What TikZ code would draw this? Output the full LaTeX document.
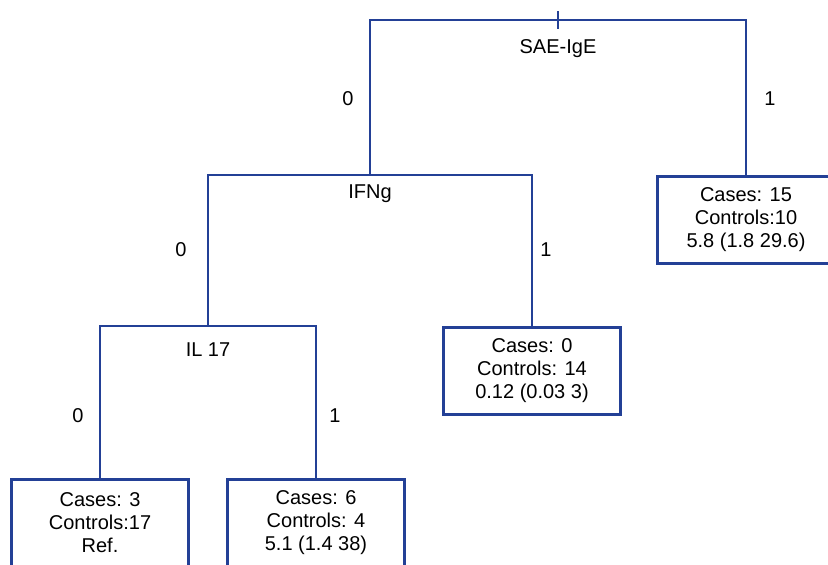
\documentclass[tikz,border=0pt]{standalone}
\usepackage{fontspec}
\setmainfont{Liberation Sans}
\usetikzlibrary{positioning}
\definecolor{treeblue}{RGB}{35,64,150}

\begin{document}
\begin{tikzpicture}[x=0.75pt, y=-0.75pt,
  branch/.style={treeblue, line width=2.1pt},
  leaf/.style={draw=treeblue, line width=2.1pt, minimum width=133pt,
    minimum height=65pt, align=center, inner sep=0pt,
    font=\fontsize{15}{17.25}\selectfont},
  split/.style={font=\fontsize{15}{17.25}\selectfont},
  side/.style={font=\fontsize{15}{17.25}\selectfont}]
  \clip (0,0) rectangle (828,564);
  % leaves
  \node[leaf] (box15) at (746,220) {Cases: 15\\Controls:10\\5.8 (1.8 29.6)};
  \node[leaf] (box0) at (532,371) {Cases: 0\\Controls: 14\\0.12 (0.03 3)};
  \node[leaf] (box3) at (100,523) {Cases: 3\\Controls:17\\Ref.};
  \node[leaf] (box6) at (316,523) {Cases: 6\\Controls: 4\\5.1 (1.4 38)};
  % split points
  \coordinate (top) at (558,20);
  \coordinate (ifng) at (370,175);
  \coordinate (il) at (208,326);
  \draw[branch] (ifng) |- (top) -| (box15.north);
  \draw[branch] (il) |- (ifng) -| (box0.north);
  \draw[branch] (box3.north) |- (il) -| (box6.north);
  \draw[branch] (top) ++(0,-9) -- ++(0,18);
  % split labels
  \node[split] (saeige) at (558,49) {SAE-IgE};
  \node[split] (ifnglab) at (370,194) {IFNg};
  \node[split] (il17) at (208,350) {IL 17};
  % branch values
  \node[side] (s0a) at (348,99) {0};
  \node[side] (s1a) at (770,99) {1};
  \node[side] (s0b) at (181,250) {0};
  \node[side] (s1b) at (546,250) {1};
  \node[side] (s0c) at (78,416) {0};
  \node[side] (s1c) at (335,416) {1};
\end{tikzpicture}
\end{document}
